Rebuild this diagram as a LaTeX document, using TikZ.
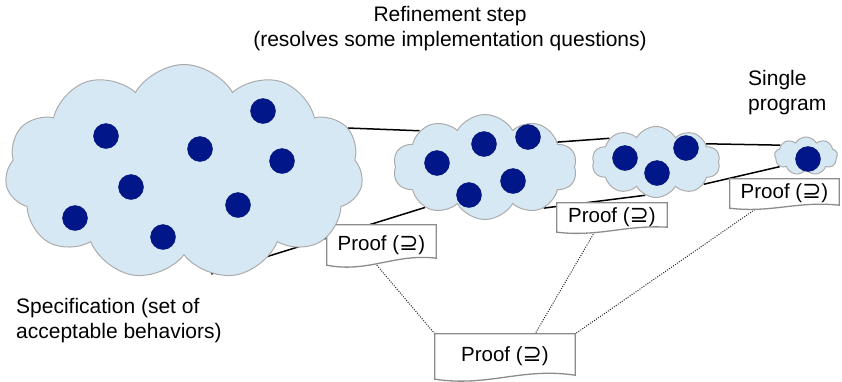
\documentclass[tikz,border=0pt]{standalone}
\usepackage{fontspec}
\setmainfont{Liberation Sans}
\newfontfamily\symfont{DejaVu Sans}
\usetikzlibrary{shapes.symbols,calc}
\definecolor{cloudfill}{RGB}{214,232,244}
\definecolor{cloudline}{RGB}{172,172,172}
\definecolor{dotblue}{RGB}{0,22,137}
\definecolor{boxline}{RGB}{140,140,140}
\pgfdeclarelayer{bg}\pgfdeclarelayer{mid}\pgfsetlayers{bg,mid,main}
\newcommand\docpath[3]{%
  \draw[doc] (#1.north west) -- (#1.north east) -- ($(#1.south east)+(0,-#2)$)
    .. controls ($(#1.south west)!0.62!(#1.south east)+(0,-#3*1.5)$) and ($(#1.south west)!0.38!(#1.south east)+(0,#3)$) .. (#1.south west) -- cycle;}
\newcommand\prooftext{Proof ({\symfont\fontsize{23}{24}\selectfont ⊇})}
\begin{document}
\begin{tikzpicture}[x=1pt,y=-1pt,
  cloudnode/.style={cloud, cloud puffs=10, cloud puff arc=120, cloud ignores aspect, draw=cloudline, fill=cloudfill, line width=1pt, inner sep=0pt},
  pt/.style={circle, fill=dotblue, draw=dotblue!80!black, line width=0.4pt, minimum size=25pt, inner sep=0pt},
  link/.style={line width=1.5pt, black},
  proofline/.style={line width=1pt, black!85, dash pattern=on 1pt off 1.4pt},
  prooftxt/.style={font=\fontsize{20.5}{24}\selectfont, inner sep=0pt},
  doc/.style={draw=boxline, fill=white, line width=1.3pt},
  lbl/.style={font=\fontsize{21}{25}\selectfont, inner sep=0pt},
]
\useasboundingbox (0,0) rectangle (842,381);

% clouds
\node[cloudnode, minimum width=358pt, minimum height=215pt, cloud puffs=11] (c1) at (184,172) {};
\node[cloudnode, minimum width=184pt, minimum height=105pt] (c2) at (485,167) {};
\node[cloudnode, minimum width=128pt, minimum height=71pt] (c3) at (656,162) {};
\node[cloudnode, minimum width=63pt, minimum height=38pt, cloud puffs=9] (c4) at (806,156) {};

% dots
\foreach \p [count=\i] in {(106,136),(200,149),(263,111),(282,161),(131,187),(75,218),(163,237),(238,205),
  (437,163),(484,144),(528,137),(513,181),(469,195),
  (625,158),(686,148),(657,173),(808,159)}
  \node[pt] (d\i) at \p {};

% proof boxes (text)
\node[prooftxt, minimum width=109pt, minimum height=40pt] (p1) at (381.5,245) {\prooftext};
\node[prooftxt, minimum width=110pt, minimum height=29pt] (p2) at (612,217.5) {\prooftext};
\node[prooftxt, minimum width=109pt, minimum height=29pt] (p3) at (784.5,193.5) {\prooftext};
\node[prooftxt, minimum width=140pt, minimum height=45pt] (p4) at (505,356.5) {\prooftext};

\begin{pgfonlayer}{mid}
  \docpath{p1}{7}{8}
  \docpath{p2}{5}{5}
  \docpath{p3}{3}{5}
  \docpath{p4}{4}{8}
\end{pgfonlayer}

\begin{pgfonlayer}{bg}
  \draw[link] (c1.15) -- (c2.151);
  \draw[link] (c1.285) -- (c2.214);
  \draw[link] (c2.19) -- (c3.153);
  \draw[link] (c2.325) -- (c3.252);
  \draw[link] (c3.20) -- (c4.157);
  \draw[link] (c3.335) -- (c4.202);
  \draw[proofline] (p1.257) -- (p4.north west);
  \draw[proofline] (p2.220) -- (p4.37);
  \draw[proofline] (p3.208) -- (p4.north east);
\end{pgfonlayer}

% labels
\node[lbl, align=center] (title) at (450,29) {Refinement step\\(resolves some implementation questions)};
\node[lbl, align=left, anchor=west] (single) at (748,93) {Single\\program};
\node[lbl, align=left, anchor=west] (spec) at (16,321) {Specification (set of\\acceptable behaviors)};
\end{tikzpicture}
\end{document}
